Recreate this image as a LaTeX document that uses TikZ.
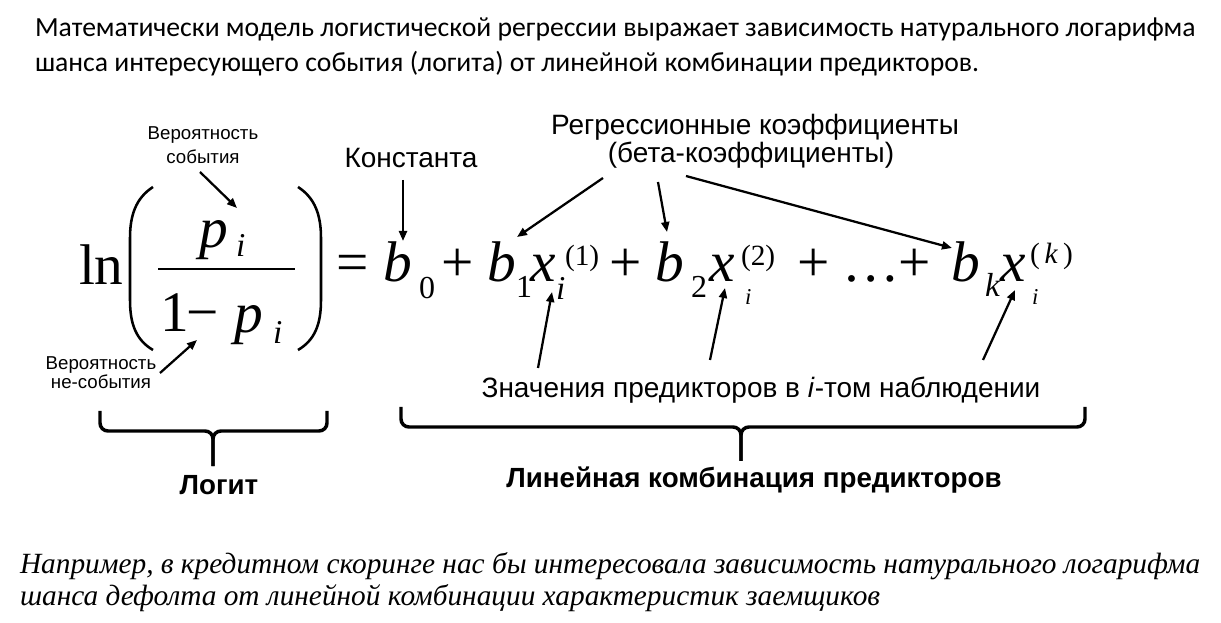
\documentclass[tikz,border=0pt]{standalone}
\usepackage{fontspec}
\setmainfont{Liberation Serif}
\newfontfamily\topfont{Carlito}
\newfontfamily\lblfont{Liberation Sans}
\usetikzlibrary{arrows.meta}
\tikzset{
  txt/.style={anchor=base west, inner sep=0pt, outer sep=0pt},
  toptext/.style={txt, font=\topfont\fontsize{20.75}{26}\selectfont},
  bottext/.style={txt, font=\itshape\fontsize{22}{26}\selectfont},
  fm/.style={txt, font=\fontsize{43}{43}\selectfont},
  fi/.style={txt, font=\itshape\fontsize{43}{43}\selectfont},
  fs/.style={txt, font=\fontsize{24}{24}\selectfont},
  fsi/.style={txt, font=\itshape\fontsize{25}{25}\selectfont},
  fsup/.style={txt, font=\fontsize{22}{22}\selectfont},
  ftiny/.style={txt, font=\itshape\fontsize{17}{17}\selectfont},
  lblsmall/.style={anchor=base, inner sep=0pt, font=\lblfont\fontsize{14}{16}\selectfont},
  lblmid/.style={anchor=base, inner sep=0pt, font=\lblfont\fontsize{21}{24}\selectfont},
  lblbold/.style={anchor=base, inner sep=0pt, font=\lblfont\bfseries\fontsize{20.8}{24}\selectfont},
  arr/.style={line width=1.7pt, -{Triangle[length=7.5pt,width=6pt]}},
  brace/.style={line width=2.6pt, rounded corners=6pt},
  paren/.style={line width=1.9pt},
}
\begin{document}
\begin{tikzpicture}[x=0.75pt,y=-0.75pt]
\useasboundingbox (0,0) rectangle (1221,623);
\fill[white] (0,0) rectangle (1221,623);

% top text
\node[toptext] (t1) at (35,37) {Математически модель логистической регрессии выражает зависимость натурального логарифма};
\node[toptext] (t2) at (35,72) {шанса интересующего события (логита) от линейной комбинации предикторов.};

% formula
\node[fm] (ln) at (79,285) {ln};
\draw[paren] (153,187) .. controls (136,198) and (130,215) .. (130,238) -- (130,300) .. controls (130,324) and (136,340) .. (153,350);
\draw[paren] (298,187) .. controls (315,198) and (321,215) .. (321,238) -- (321,300) .. controls (321,324) and (315,340) .. (298,350);
\node[fi] (pn) at (199,248) {p};
\node[fsi] (pni) at (236,257) {i};
\draw[line width=2.2pt] (158,269) -- (295,269);
\node[fm] (one) at (160,332) {1};
\node[fm] (minus) at (186,332) {−};
\node[fi] (pd) at (234,333) {p};
\node[fsi] (pdi) at (273,344) {i};

\node[fm] (eq) at (336,282) {=};
\node[fi] (b0) at (383,282) {b};
\node[fs] (s0) at (419,299) {0};
\node[fm] (pl1) at (441,282) {+};
\node[fi] (b1) at (487,282) {b};
\node[fs] (s1) at (516,298) {1};
\node[fi] (x1) at (530,282) {x};
\node[fsi] (i1) at (556,300) {i};
\node[fsup] (sup1) at (565,266) {(1)};
\node[fm] (pl2) at (609,282) {+};
\node[fi] (b2) at (655,282) {b};
\node[fs] (s2) at (691,298) {2};
\node[fi] (x2) at (709,282) {x};
\node[ftiny] (i2) at (745,305) {i};
\node[fsup] (sup2) at (741,266) {(2)};
\node[fm] (pl3) at (797,282) {+};
\node[fm] (dots) at (842,282) {…};
\node[fm] (pl4) at (898,282) {+};
\node[fi] (bk) at (951,282) {b};
\node[fsi] (sk) at (985,297) {k};
\node[fi] (xk) at (1000,282) {x};
\node[ftiny] (ik) at (1032,305) {i};
\node[fsup] (supk) at (1030,264) {(\,\textit{k}\,)};

% labels
\node[lblsmall] (lev1) at (203,140) {Вероятность};
\node[lblsmall] (lev2) at (203,164) {события};
\node[lblsmall] (lnev1) at (101,370) {Вероятность};
\node[lblsmall] (lnev2) at (101,389) {не-события};
\node[lblmid] (lconst) at (411,168) {Константа};
\node[lblmid] (lcoef1) at (755,135) {Регрессионные коэффициенты};
\node[lblmid] (lcoef2) at (751,163) {(бета-коэффициенты)};
\node[lblmid] (lval) at (761,398) {Значения предикторов в \textit{i}-том наблюдении};
\node[lblbold] (llogit) at (219,494) {Логит};
\node[lblbold] (llin) at (754,488) {Линейная комбинация предикторов};

% arrows
\coordinate (a1s) at (200,172); \coordinate (a1e) at (237,208);
\coordinate (a2s) at (160,373); \coordinate (a2e) at (197,340);
\coordinate (a3s) at (403,180); \coordinate (a3e) at (403,241);
\coordinate (a4s) at (603,178); \coordinate (a4e) at (517,237);
\coordinate (a5s) at (658,182); \coordinate (a5e) at (667,232);
\coordinate (a6s) at (686,176); \coordinate (a6e) at (952,248);
\coordinate (a7s) at (538,368); \coordinate (a7e) at (552,292);
\coordinate (a8s) at (710,360); \coordinate (a8e) at (725,288);
\coordinate (a9s) at (983,360); \coordinate (a9e) at (1015,290);
\foreach \i in {1,...,9} \draw[arr] (a\i s) -- (a\i e);

% braces
\coordinate (bl1) at (100,411); \coordinate (bl2) at (327,411);
\coordinate (blm) at (213,431); \coordinate (blb) at (213,466);
\draw[brace] (bl1) -- (100,431) -- (blm) -- (blb);
\draw[brace] (bl2) -- (327,431) -- (blm) -- (blb);
\coordinate (br1) at (401,407); \coordinate (br2) at (1085,407);
\coordinate (brm) at (741,427); \coordinate (brb) at (741,461);
\draw[brace] (br1) -- (401,427) -- (brm) -- (brb);
\draw[brace] (br2) -- (1085,427) -- (brm) -- (brb);

% bottom text
\node[bottext] (e1) at (20,573) {Например, в кредитном скоринге нас бы интересовала зависимость натурального логарифма};
\node[bottext] (e2) at (20,605) {шанса дефолта от линейной комбинации характеристик заемщиков};
\end{tikzpicture}
\end{document}
